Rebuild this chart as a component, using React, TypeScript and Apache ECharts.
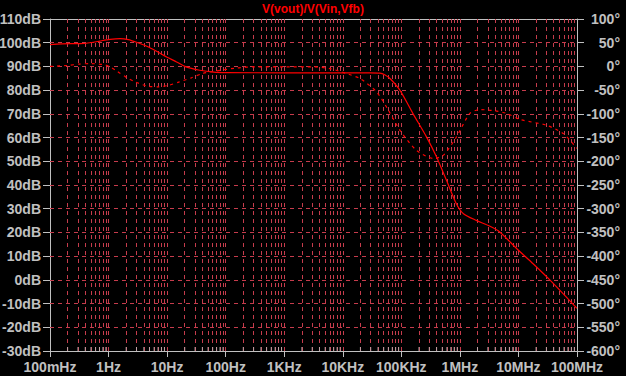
import React, { useEffect, useRef } from "react";
import * as echarts from "echarts";

// ---- data (frequency in Hz) ----
const magFreq = [0.1, 0.22, 0.33, 0.55, 0.71, 1.06, 1.57, 2.17, 3.0, 4.5, 6.6, 9.8, 14.5, 21, 36, 62, 105, 1000, 10000, 30000, 43000, 52000, 64000, 95000, 158000, 270000, 400000, 590000, 870000, 1150000, 1900000, 3200000, 4800000, 9300000, 17800000, 35000000, 66000000, 100000000];
const magDb = [99.2, 99.6, 99.6, 100.2, 100.7, 101.4, 101.7, 101.3, 100.2, 98.5, 96.4, 94.0, 91.9, 89.8, 88.4, 87.6, 87.4, 87.3, 87.3, 87.3, 87.2, 86.5, 84.9, 79.9, 70.1, 60.2, 51.8, 42.0, 32.1, 27.9, 25.1, 22.7, 20.2, 13.2, 6.8, -0.2, -7.3, -12];

const phaseFreq = [0.1, 0.2, 0.32, 0.5, 0.8, 1.0, 1.4, 1.95, 2.9, 4.8, 7.1, 10.5, 15.8, 26, 40, 66, 160, 320, 1000, 3200, 6300, 11600, 20000, 38000, 60000, 95000, 182000, 355000, 525000, 870000, 1480000, 2200000, 3700000, 6300000, 10700000, 30000000, 59000000, 100000000];
const phaseDeg = [0, 2, 5, 6, 4, 1, -10, -22, -33, -42, -43, -40, -33, -24, -15, -10, -3, -1, -1, -1, -5, -15, -26, -54, -92, -135, -177, -194, -187, -149, -99, -91, -93, -99, -112, -124, -142, -173];

// ---- axis / tick definitions ----
const decades = [0.1, 1, 10, 100, 1000, 10000, 100000, 1000000, 10000000];
const subMultipliers = [2, 3, 4, 5, 6, 7, 8, 9];
const freqLabels = ["100mHz", "1Hz", "10Hz", "100Hz", "1KHz", "10KHz", "100KHz", "1MHz", "10MHz", "100MHz"];
const dbGridValues = [-20, -10, 0, 10, 20, 30, 40, 50, 60, 70, 80, 90, 100];
const titleText = "V(vout)/V(Vin,Vfb)";

const GRID = "#c63c4c";
const AXIS = "#c0c0c0";
const FONT = "Arial, 'Liberation Sans', sans-serif";

export default function App() {
  const ref = useRef<HTMLDivElement>(null);
  useEffect(() => {
    document.body.style.margin = "0";
    document.body.style.background = "#000";
    const chart = echarts.init(ref.current!, null, { renderer: "svg" });

    const vLines: number[] = [];
    decades.forEach((d, i) => {
      if (i > 0) vLines.push(d);
      subMultipliers.forEach((m) => vLines.push(d * m));
    });

    const magData = magFreq.map((f, i) => [f, magDb[i]]);
    const phaseData = phaseFreq.map((f, i) => [f, phaseDeg[i]]);
    const minorTickData = vLines
      .filter((v) => !decades.includes(v))
      .map((v) => [v, -30]);

    const labelFor = (v: number) => {
      const e = Math.round(Math.log10(v)) + 1;
      return freqLabels[e] ?? "";
    };

    chart.setOption({
      animation: false,
      backgroundColor: "#000",
      title: {
        text: titleText,
        left: "center",
        top: 3,
        padding: 0,
        textStyle: { color: "#ff0000", fontSize: 12, fontWeight: "bold", fontFamily: FONT },
      },
      grid: {
        left: 50,
        top: 19,
        width: 527,
        height: 332,
        containLabel: false,
        outerBoundsMode: "none",
      },
      xAxis: [
        {
          type: "log",
          logBase: 10,
          min: 0.1,
          max: 100000000,
          splitNumber: 9,
          position: "bottom",
          axisLine: { show: true, onZero: false, lineStyle: { color: AXIS, width: 1 } },
          axisTick: { show: true, length: 6, lineStyle: { color: AXIS } },
          axisLabel: {
            interval: 0,
            margin: 9,
            color: AXIS,
            fontSize: 14,
            fontWeight: "bold",
            fontFamily: FONT,
            formatter: (v: number) => labelFor(v),
            showMinLabel: true,
            showMaxLabel: true,
          },
          splitLine: { show: false },
        },
        {
          type: "log",
          logBase: 10,
          min: 0.1,
          max: 100000000,
          position: "top",
          axisLine: { show: true, onZero: false, lineStyle: { color: AXIS, width: 1 } },
          axisTick: { show: false },
          axisLabel: { show: false },
          splitLine: { show: false },
        },
      ],
      yAxis: [
        {
          type: "value",
          min: -30,
          max: 110,
          interval: 10,
          position: "left",
          axisLine: { show: true, onZero: false, lineStyle: { color: AXIS } },
          axisTick: { show: true, length: 7, lineStyle: { color: AXIS } },
          axisLabel: {
            margin: 9,
            color: AXIS,
            fontSize: 14,
            fontWeight: "bold",
            fontFamily: FONT,
            formatter: "{value}dB",
          },
          splitLine: { show: false },
        },
        {
          type: "value",
          min: -600,
          max: 100,
          interval: 50,
          position: "right",
          axisLine: { show: true, onZero: false, lineStyle: { color: AXIS } },
          axisTick: { show: true, length: 7, lineStyle: { color: AXIS } },
          axisLabel: {
            margin: 43,
            align: "right",
            color: AXIS,
            fontSize: 14,
            fontWeight: "bold",
            fontFamily: FONT,
            formatter: "{value}°",
          },
          splitLine: { show: false },
        },
      ],
      series: [
        {
          name: "grid",
          type: "line",
          data: [],
          silent: true,
          z: 1,
          markLine: {
            silent: true,
            symbol: ["none", "none"],
            label: { show: false },
            z: 1,
            data: [
              ...vLines.map((v) => ({
                xAxis: v,
                lineStyle: { color: GRID, type: [4, 4], width: 1 },
              })),
              ...dbGridValues.map((v) => ({
                yAxis: v,
                lineStyle: { color: GRID, type: [4, 4], width: 1 },
              })),
            ],
          },
        },
        {
          name: "minorTicks",
          type: "scatter",
          data: minorTickData,
          symbol: "rect",
          symbolSize: [1, 4],
          symbolOffset: [0, -2],
          itemStyle: { color: AXIS },
          silent: true,
          clip: false,
          z: 2,
        },
        {
          name: "magnitude",
          type: "line",
          data: magData,
          yAxisIndex: 0,
          showSymbol: false,
          smooth: 0.25,
          lineStyle: { color: "#ff0000", width: 1.2 },
          z: 5,
        },
        {
          name: "phase",
          type: "line",
          data: phaseData,
          yAxisIndex: 1,
          showSymbol: false,
          smooth: 0.25,
          lineStyle: { color: "#ff0000", width: 1.2, type: [3, 4] },
          z: 5,
        },
      ],
    });
    return () => chart.dispose();
  }, []);
  return (
    <div
      ref={ref}
      style={{ position: "fixed", left: 0, top: 0, width: 626, height: 376, background: "#000" }}
    />
  );
}
